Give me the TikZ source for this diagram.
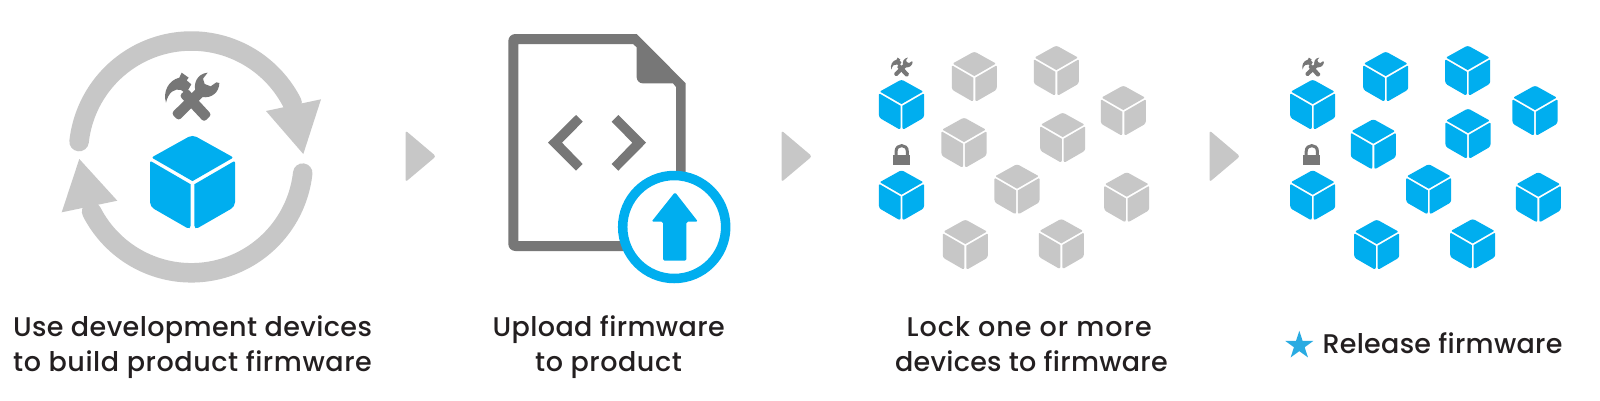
\documentclass[tikz,border=0pt]{standalone}
\usepackage{fontspec}
\setmainfont[LetterSpace=1]{Poppins Medium}
\usetikzlibrary{shapes.geometric}
\definecolor{cubeblue}{HTML}{00AEEF}
\definecolor{lightgr}{HTML}{C7C7C7}
\definecolor{darkgr}{HTML}{777777}
\definecolor{inktext}{HTML}{231F20}
\definecolor{starblue}{HTML}{29ABE2}
\tikzset{
  caption/.style={anchor=base,inner sep=0pt,text=inktext,font=\fontsize{27}{27}\selectfont},
  chevronmark/.style={fill=lightgr,rounded corners=2.5pt},
  ringarc/.style={draw=lightgr,line width=19.5pt,line cap=round,line join=round},
  ringhead/.style={fill=lightgr},
}
% cube icon: x, y, scale, colour
\newcommand\cubeicon[4]{%
  \pgfmathsetmacro\rr{4.5*#3}%
  \pgfmathsetmacro\rs{2*#3}%
  \begin{scope}[shift={(#1,#2)},scale=#3]
    \fill[#4] (0,-1.2) [rounded corners=\rs pt] -- (-41,-24.8) [rounded corners=\rr pt] -- (0,-47.6) [rounded corners=\rs pt] -- (41,-24.8) [sharp corners] -- cycle;
    \fill[#4] (-1.8,25) [sharp corners] -- (-1.8,2) [rounded corners=\rs pt] -- (-42.5,-21.6) [rounded corners=\rr pt] -- (-42.5,24.3) -- (-1.8,47.7) -- cycle;
    \fill[#4] (1.8,25) [sharp corners] -- (1.8,2) [rounded corners=\rs pt] -- (42.5,-21.6) [rounded corners=\rr pt] -- (42.5,24.3) -- (1.8,47.7) -- cycle;
  \end{scope}}
% tools icon: x, y, scale (1 = large icon)
\newcommand\toolsicon[3]{%
  \pgfmathsetmacro\rr{3*#3}%
  \begin{scope}[shift={(#1,#2)},scale=#3/3,shift={(-186,-110)}]
    % wrench
    \fill[darkgr,rounded corners=\rr pt] (124,159) -- (146,181) -- (228,100) -- (206,78) -- cycle;
    \fill[darkgr] (198,98) .. controls (188,72) and (200,40) .. (233,37)
      -- (219,55) -- (224,71) -- (242,78) -- (259,66) -- (268,68)
      .. controls (268,95) and (245,115) .. (217,110) -- cycle;
    % hammer
    \fill[darkgr,rounded corners=\rr pt] (222,185) -- (245,163) -- (172,84) -- (148,106) -- cycle;
    \fill[darkgr] (155,37) -- (176,52) -- (170,60) -- (184,72) -- (168,100) -- (153,89)
      .. controls (135,83) and (115,95) .. (108,127)
      .. controls (98,95) and (115,60) .. (148,52) -- cycle;
  \end{scope}}
% lock icon: x (centre), y (top), colour fixed
\newcommand\lockicon[2]{%
  \draw[darkgr,line width=3pt] (#1-5.6,#2+12) -- (#1-5.6,#2+8) .. controls (#1-5.6,#2+0.4) and (#1+5.6,#2+0.4) .. (#1+5.6,#2+8) -- (#1+5.6,#2+12);
  \fill[darkgr] (#1-8.5,#2+11.5) rectangle (#1+8.5,#2+22);}
\begin{document}
\begin{tikzpicture}[x=1pt,y=-1pt]
\useasboundingbox[fill=white] (0,0) rectangle (1600,400);

% ---- panel 1 ----
\draw[ringarc] plot[domain=173.7:27,samples=90] ({191.4+113*cos(\x)},{154-113*sin(\x)});
\fill[ringhead] (266,111) -- (321,99.3) -- (303.3,154) -- cycle;
\draw[ringarc] plot[domain=-6.3:-153,samples=90] ({191.4+112*cos(\x)},{160.8-112*sin(\x)});
\fill[ringhead] (79.3,159) -- (117.3,200.7) -- (61.7,212.3) -- cycle;
\toolsicon{192}{97}{1}
\cubeicon{192.5}{182.3}{1}{cubeblue}

% ---- chevrons ----
\fill[chevronmark] (405.5,130.5) -- (436,156.3) -- (405.5,182) -- cycle;
\fill[chevronmark] (781.5,130.5) -- (812,156.3) -- (781.5,182) -- cycle;
\fill[chevronmark] (1209.5,130.5) -- (1240,156.3) -- (1209.5,182) -- cycle;

% ---- panel 2 ----
\fill[darkgr,even odd rule]
  (508.3,100) [rounded corners=7pt] -- (508.3,34) [sharp corners] -- (636.7,34) -- (685.7,83.3) -- (685.7,251) [rounded corners=7pt] -- (508.3,251) -- cycle
  [sharp corners] (518.3,44) -- (633,44) -- (636.7,47.3) [rounded corners=6pt] -- (636.7,83.3) [sharp corners] -- (673,83.3) -- (676,87) -- (676,241) -- (518.3,241) -- cycle;
\fill[darkgr] (548,142.7) -- (576,115) -- (582.7,121.7) -- (562,142.7) -- (582.7,164) -- (576,170.7) -- cycle;
\fill[darkgr] (646,142.7) -- (618.3,115) -- (611.7,121.7) -- (632.3,142.7) -- (611.7,164) -- (618.3,170.7) -- cycle;
\draw[cubeblue,line width=9.5pt,fill=white] (674.2,227) circle[radius=51.5];
\fill[cubeblue,rounded corners=1.5pt] (675,192.2) -- (698,221.7) -- (686.3,221.7) -- (686.3,260.7) -- (663,260.7) -- (663,221.7) -- (651.5,221.7) -- cycle;

% ---- panel 3 ----
\toolsicon{901.7}{67.3}{0.4}
\cubeicon{901.5}{104.7}{0.53}{cubeblue}
\lockicon{901.7}{143.3}
\cubeicon{901.5}{195.3}{0.53}{cubeblue}
\foreach \px/\py in {974.3/76.7,1056.3/70.7,1123.3/110.7,964/142.7,1062.7/137.7,1017/189.3,1126.7/197.3,965.3/244.7,1061.3/244}
  {\cubeicon{\px}{\py}{0.53}{lightgr}}

% ---- panel 4 ----
\toolsicon{1313}{67.3}{0.4}
\cubeicon{1312.7}{104.7}{0.53}{cubeblue}
\lockicon{1311.8}{143.3}
\cubeicon{1312.7}{195.3}{0.53}{cubeblue}
\foreach \px/\py in {1385.7/76.7,1467.7/70.7,1535/110.7,1373.3/144.3,1468/133.7,1428.7/189.3,1538.3/197.3,1376.7/244.7,1472.7/244}
  {\cubeicon{\px}{\py}{0.53}{cubeblue}}

% ---- captions ----
\node[caption] (capa1) at (192.5,336.7) {\addfontfeature{LetterSpace=1.5}Use development devices};
\node[caption] (capa2) at (192.5,371) {\addfontfeature{LetterSpace=2.1}to build product firmware};
\node[caption] (capb1) at (608.7,336.7) {\addfontfeature{LetterSpace=1.4}Upload firmware};
\node[caption] (capb2) at (608.5,371) {\addfontfeature{LetterSpace=2}to product};
\node[caption] (capc1) at (1029.2,336.7) {\addfontfeature{LetterSpace=3.8}Lock one or more};
\node[caption] (capc2) at (1031.4,371) {devices to firmware};
\node[caption] (capd) at (1442.5,353.3) {Release firmware};
\node[star,star points=5,star point ratio=2.618,fill=starblue,minimum size=29.5pt,inner sep=0pt,outer sep=0pt] (starmark) at (1299.3,345.5) {};
\end{tikzpicture}
\end{document}
